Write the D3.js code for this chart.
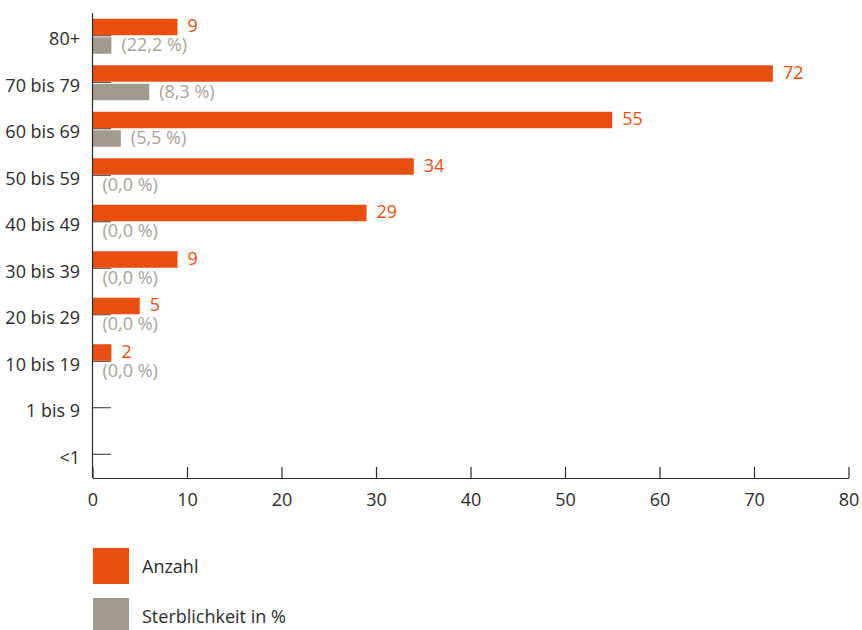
<!DOCTYPE html>
<html>
<head>
<meta charset="utf-8">
<script src="https://cdn.jsdelivr.net/npm/d3@7"></script>
<style>
  html, body { margin: 0; padding: 0; background: #fff; }
  svg { display: block; font-family: "Open Sans", "Noto Sans", sans-serif; }
</style>
</head>
<body>
<svg id="chart" width="862" height="630"></svg>
<script>
// Age groups, top to bottom
const ageGroups = ["80+", "70 bis 79", "60 bis 69", "50 bis 59", "40 bis 49",
                   "30 bis 39", "20 bis 29", "10 bis 19", "1 bis 9", "<1"];
// Number of cases per age group
const cases = [9, 72, 55, 34, 29, 9, 5, 2, 0, 0];
// Number of deaths per age group (bar length of the grey series)
const deaths = [2, 6, 3, 0, 0, 0, 0, 0, 0, 0];
// x axis ticks
const xTicks = [0, 10, 20, 30, 40, 50, 60, 70, 80];
// Legend entries
const legendLabels = ["Anzahl", "Sterblichkeit in %"];

const ORANGE = "#e84e0f";
const GREY = "#a09a90";
const GREY_TEXT = "#a8a29a";
const INK = "#2b2b2b";

const svg = d3.select("#chart");
const margin = { left: 92.5, top: 13 };

const x = d3.scaleLinear().domain([0, 80]).range([margin.left, 848.5]);
const y = d3.scaleBand().domain(ageGroups).range([margin.top, 478]);
const mid = g => y(g) + y.bandwidth() / 2 - 0.5;

const rows = ageGroups.map((g, i) => ({
  group: g, cases: cases[i], deaths: deaths[i],
  rate: cases[i] > 0 ? deaths[i] / cases[i] * 100 : null
}));

// Category ticks (drawn beneath the bars)
svg.append("g").selectAll("line").data(rows).join("line")
  .attr("x1", x(0)).attr("x2", x(0) + 18.5)
  .attr("y1", d => mid(d.group))
  .attr("y2", d => mid(d.group))
  .attr("stroke", INK).attr("stroke-width", 1);

const barH = 16.5;

// Case counts
svg.append("g").selectAll("rect").data(rows.filter(d => d.cases > 0)).join("rect")
  .attr("x", x(0))
  .attr("y", d => mid(d.group) - barH - 0.5)
  .attr("width", d => x(d.cases) - x(0))
  .attr("height", barH)
  .attr("fill", ORANGE);

// Deaths
svg.append("g").selectAll("rect").data(rows.filter(d => d.deaths > 0)).join("rect")
  .attr("x", x(0))
  .attr("y", d => mid(d.group) + 1.5)
  .attr("width", d => x(d.deaths) - x(0))
  .attr("height", barH)
  .attr("fill", GREY);

// Value labels for case counts
svg.append("g").selectAll("text").data(rows.filter(d => d.cases > 0)).join("text")
  .attr("x", d => x(d.cases) + 10)
  .attr("y", d => mid(d.group) - 3.5)
  .attr("fill", ORANGE)
  .attr("font-size", 18)
  .text(d => d.cases);

// Mortality labels
const fmtRate = v => "(" + v.toFixed(1).replace(".", ",") + " %)";
svg.append("g").selectAll("text").data(rows.filter(d => d.rate !== null)).join("text")
  .attr("x", d => x(d.deaths) + 10)
  .attr("y", d => mid(d.group) + 15.5)
  .attr("fill", GREY_TEXT)
  .attr("font-size", 18)
  .text(d => fmtRate(d.rate));

// Category labels
svg.append("g").selectAll("text").data(rows).join("text")
  .attr("x", 80)
  .attr("y", d => mid(d.group) + 9.5)
  .attr("text-anchor", "end")
  .attr("fill", INK)
  .attr("font-size", 18)
  .text(d => d.group);

// Left axis line
svg.append("line")
  .attr("x1", x(0)).attr("x2", x(0))
  .attr("y1", margin.top).attr("y2", 478)
  .attr("stroke", INK).attr("stroke-width", 1.2);

// Bottom axis with inward ticks
const xAxis = d3.axisBottom(x).tickValues(xTicks).tickSize(-11).tickPadding(22)
  .tickSizeOuter(0);
const gx = svg.append("g").attr("transform", "translate(0,478)").call(xAxis);
gx.select(".domain").attr("stroke", INK).attr("stroke-width", 1.2);
gx.selectAll(".tick line").attr("stroke", INK).attr("stroke-width", 1.2);
gx.selectAll(".tick text")
  .attr("fill", INK).attr("font-size", 18)
  .attr("font-family", "'Open Sans', 'Noto Sans', sans-serif")
  .attr("dy", "0.32em").attr("y", 22);

// Legend
const legend = svg.append("g");
const legendColors = [ORANGE, GREY];
legendLabels.forEach((lab, i) => {
  const ly = 548 + i * 50;
  legend.append("rect").attr("x", 93).attr("y", ly).attr("width", 36).attr("height", 36)
    .attr("fill", legendColors[i]);
  legend.append("text").attr("x", 142).attr("y", ly + 25)
    .attr("fill", INK).attr("font-size", 18).text(lab);
});
</script>
</body>
</html>
